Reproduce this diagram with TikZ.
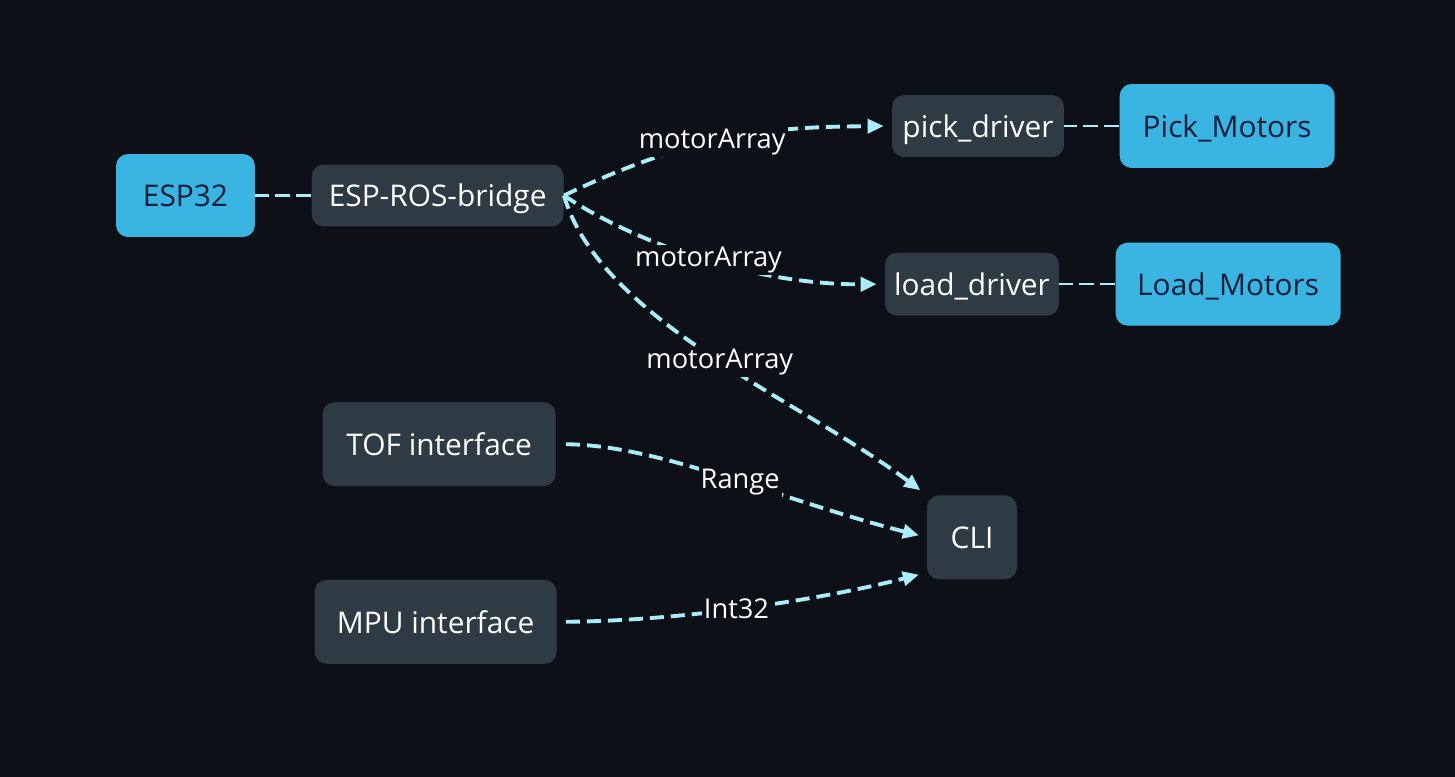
\documentclass[tikz,border=0pt]{standalone}
\usepackage{fontspec}
\setmainfont{Open Sans}
\usetikzlibrary{arrows.meta}
\usetikzlibrary{calc}
\usetikzlibrary{positioning}
\definecolor{canvas}{RGB}{13,16,23}
\definecolor{boxdark}{RGB}{47,59,68}
\definecolor{boxblue}{RGB}{58,181,226}
\definecolor{textnavy}{RGB}{12,28,60}
\definecolor{wire}{RGB}{170,236,250}
\tikzset{
  x = 0.02cm, y = -0.02cm,
  node distance = 1.1cm and 1.1cm,
  > = {Triangle[length = 0.32cm, width = 0.28cm]},
  soft/.style = {rectangle,
                 rounded corners = 0.24cm,
                 align = center,
                 font = \fontsize{17pt}{20pt}\selectfont,
                 text depth = 0pt,
                 inner sep = 0.05cm},
  ros/.style = {soft,
                fill = boxdark,
                text = white,
                minimum height = 1.24cm},
  iface/.style = {ros,
                  minimum height = 1.68cm},
  hardware/.style = {soft,
                     fill = boxblue,
                     text = textnavy,
                     minimum height = 1.66cm},
  link/.style = {draw = wire,
                 line width = 1.4pt,
                 dash pattern = on 0.3cm off 0.12cm},
  topic/.style = {draw = wire,
                  line width = 2.2pt,
                  dash pattern = on 0.28cm off 0.14cm,
                  ->,
                  shorten > = 0.16cm},
  msg/.style = {fill = canvas,
                text = white,
                font = \fontsize{15.5pt}{18pt}\selectfont,
                inner sep = 0.04cm}
}

\begin{document}
\begin{tikzpicture}

\fill[canvas](0,0) rectangle (1455,777);
\useasboundingbox (0,0) rectangle (1455,777);

\node[hardware, minimum width = 2.78cm](esp32) at (185.5,195.5){ESP32};

\node[ros, minimum width = 5.04cm](esp-bridge)[right = 1.12cm of esp32]{ESP-ROS-bridge}
  edge[link](esp32);

\node[ros, minimum width = 3.44cm](pick-driver) at (978,126){pick\_driver};

\node[hardware, minimum width = 4.30cm, minimum height = 1.68cm](pick-motors)[right = 1.1cm of pick-driver]{Pick\_Motors}
  edge[link](pick-driver);

\node[ros, minimum width = 3.48cm, minimum height = 1.26cm](load-driver)[below = 1.9cm of pick-driver, xshift = -0.12cm]{load\_driver};

\node[hardware, minimum width = 4.50cm](load-motors)[right = 1.12cm of load-driver]{Load\_Motors}
  edge[link](load-driver);

\node[iface, minimum width = 4.66cm](tof)[below = 3.5cm of esp-bridge, xshift = 0.03cm]{TOF interface};

\node[iface, minimum width = 4.84cm](mpu)[below = 1.86cm of tof, xshift = -0.07cm]{MPU interface};

\node[iface, minimum width = 1.80cm](cli)[below = 3.58cm of load-driver]{CLI};

\draw[topic](esp-bridge.east) .. controls (700,130) and (780,127) .. (pick-driver.west)
  node[msg, pos = 0.42]{motorArray};

\draw[topic](esp-bridge.east) .. controls (630,240) and (750,285) .. (load-driver.west)
  node[msg, pos = 0.53]{motorArray};

\draw[topic](esp-bridge.east) .. controls (600,320) and (800,400) .. (cli.north west)
  node[msg, pos = 0.52]{motorArray};

\draw[topic, shorten < = 0.2cm](tof.east) .. controls (660,445) and (780,500) .. (cli.west)
  node[msg, pos = 0.54]{Range};

\draw[topic, shorten < = 0.18cm](mpu.east) .. controls (680,621) and (820,600) .. ($(cli.south west)+(0,-7)$)
  node[msg, pos = 0.47]{Int32};

\end{tikzpicture}
\end{document}
